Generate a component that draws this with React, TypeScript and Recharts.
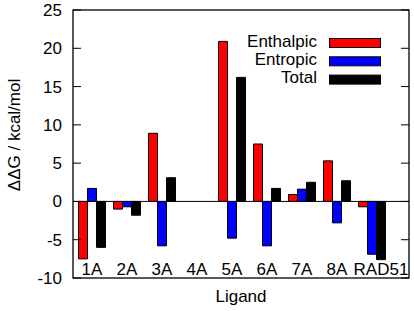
import { BarChart, Bar, XAxis, YAxis, ReferenceLine, Legend, usePlotArea } from "recharts";

// ligands and the three free-energy components (kcal/mol)
const ligands = ["1A", "2A", "3A", "4A", "5A", "6A", "7A", "8A", "RAD51"];
const enthalpic = [-7.5, -1.0, 8.9, 0, 20.9, 7.5, 0.9, 5.3, -0.7];
const entropic = [1.7, -0.7, -5.8, 0, -4.8, -5.8, 1.6, -2.8, -6.9];
const total = [-6.0, -1.8, 3.1, 0, 16.2, 1.7, 2.5, 2.7, -7.6];
const yTicks = [-10, -5, 0, 5, 10, 15, 20, 25];

const series = [
  { key: "enthalpic", name: "Enthalpic", color: "#ff0000" },
  { key: "entropic", name: "Entropic", color: "#0000ff" },
  { key: "total", name: "Total", color: "#000000" },
];

const data = ligands.map((ligand, i) => ({
  ligand,
  enthalpic: enthalpic[i],
  entropic: entropic[i],
  total: total[i],
}));

const W = 414;
const H = 311;
const FONT = "'Liberation Sans', Arial, sans-serif";
const PLOT_RIGHT = 409;

const YTick = (props: any) => {
  const { x, y, payload } = props;
  return (
    <g>
      <text x={x - 11} y={y} dy="0.35em" textAnchor="end" fontSize={17} fill="#000" fontFamily={FONT}>
        {payload.value}
      </text>
      <line x1={x} x2={x + 8} y1={y} y2={y} stroke="#000" />
      <line x1={PLOT_RIGHT - 8} x2={PLOT_RIGHT} y1={y} y2={y} stroke="#000" />
    </g>
  );
};

const XTick = (props: any) => {
  const { x, y, payload } = props;
  // the long RAD51 label sits a little right of its bars in the original
  const dx = payload.value.length > 3 ? 9 : 0;
  return (
    <text x={x + dx} y={y - 3} textAnchor="middle" fontSize={17} fill="#000" fontFamily={FONT}>
      {payload.value}
    </text>
  );
};

// border box around the plot area
const Frame = () => {
  const area = usePlotArea();
  if (!area) return null;
  return <rect x={area.x} y={area.y} width={area.width} height={area.height} fill="none" stroke="#000" strokeWidth={1.3} />;
};

const renderLegend = () => (
  <svg width={200} height={60}>
    {series.map((s, i) => (
      <g key={s.key}>
        <text x={117} y={16.5 + i * 18.3} textAnchor="end" fontSize={17} fill="#000" fontFamily={FONT}>
          {s.name}
        </text>
        <rect x={129.5} y={8.5 + i * 18.3} width={51} height={9} fill={s.color} stroke="#000" />
      </g>
    ))}
  </svg>
);

export default function App() {
  return (
    <div style={{ position: "absolute", left: 0, top: 0, width: W, height: H, background: "#fff", fontFamily: FONT }}>
      <BarChart
        width={W}
        height={H}
        data={data}
        margin={{ top: 10, right: 5, bottom: 0, left: 0 }}
        barSize={9}
        barGap={0}
      >
        <XAxis
          dataKey="ligand"
          height={33}
          axisLine={false}
          tickLine={false}
          tickSize={0}
          tickMargin={0}
          interval={0}
          padding={{ left: 1.5, right: 19.5 }}
          tick={<XTick />}
          label={({ viewBox }: any) => (
            <text x={viewBox.x + viewBox.width / 2} y={viewBox.y + 24} textAnchor="middle" fontSize={17} fill="#000" fontFamily={FONT}>
              Ligand
            </text>
          )}
        />
        <YAxis
          width={73}
          type="number"
          domain={[-10, 25]}
          ticks={yTicks}
          axisLine={false}
          tickLine={false}
          tickSize={0}
          tickMargin={0}
          tick={<YTick />}
          label={() => (
            <text x={20} y={135} transform="rotate(-90, 20, 135)" textAnchor="middle" fontSize={17} fill="#000" fontFamily={FONT}>
              ΔΔG / kcal/mol
            </text>
          )}
        />
        <Legend
          layout="vertical"
          align="center"
          verticalAlign="middle"
          content={renderLegend}
          wrapperStyle={{ position: "absolute", top: 30, left: 200, width: 200, height: 60 }}
        />
        {series.map((s) => (
          <Bar key={s.key} dataKey={s.key} name={s.name} fill={s.color} stroke="#000" strokeWidth={1} isAnimationActive={false} />
        ))}
        <ReferenceLine y={0} stroke="#000" strokeWidth={1} />
        <Frame />
      </BarChart>
    </div>
  );
}
